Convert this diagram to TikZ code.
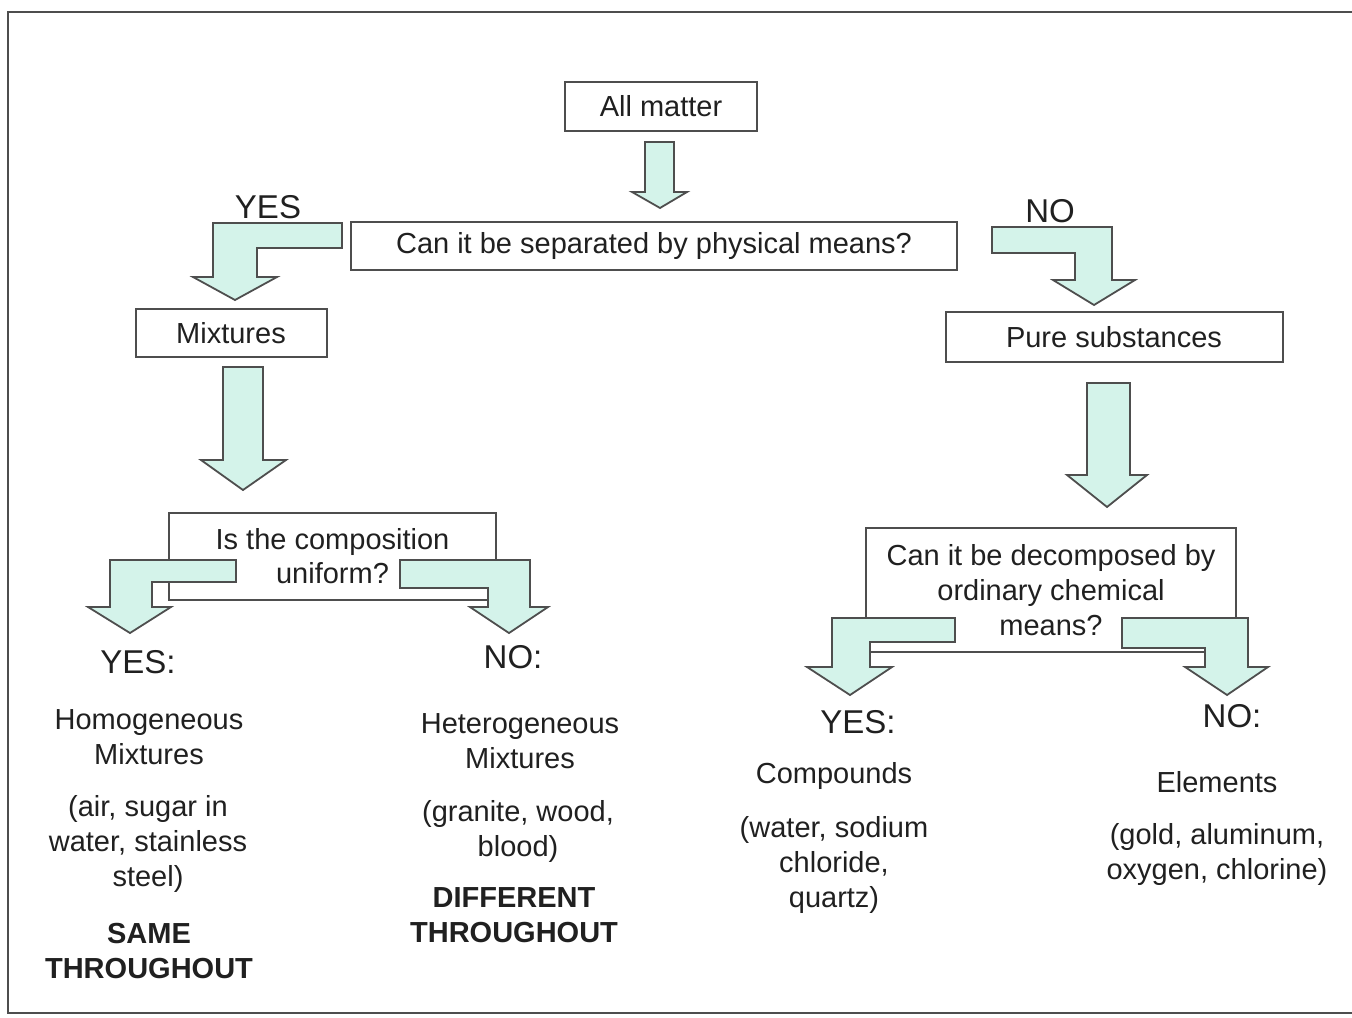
\documentclass[tikz,border=0pt]{standalone}
\usepackage{fontspec}
\setmainfont{Liberation Sans}
\usepackage{tikz}
\usetikzlibrary{positioning}
\definecolor{mint}{RGB}{212,243,234}
\definecolor{edge}{RGB}{78,78,78}
\definecolor{ink}{RGB}{32,32,32}
\tikzstyle{box} = [rectangle, draw=edge, line width=1pt, text=ink, align=center, inner sep=0pt]
\tikzstyle{lbl} = [text=ink, align=center, inner sep=0pt]
\tikzstyle{head} = [lbl, font=\fontsize{16.5}{19}\selectfont]
\tikzstyle{big} = [lbl, font=\fontsize{14.5}{17.5}\selectfont\bfseries]
\tikzset{blk/.style={draw=edge, fill=mint, line width=0.9pt, line join=miter}}

\begin{document}
\begin{tikzpicture}[x=0.5pt, y=-0.5pt, font=\fontsize{14.5}{17.5}\selectfont]
			\useasboundingbox (0,0) rectangle (1352,1017);
			\draw [edge, line width=1.4pt] (1352,12) -- (8,12) -- (8,1013) -- (1352,1013);
			
			\node (all) [box, minimum width=96pt, minimum height=24.5pt] at (661,106) {All matter};
			\node (sep) [box, minimum width=303pt, minimum height=24pt] at (654,246) {Can it be separated by physical means?};
			\node (mix) [box, minimum width=95.5pt, minimum height=24pt] at (231,333) {Mixtures};
			\node (pure) [box, minimum width=168.5pt, minimum height=25pt] at (1114,337) {Pure substances};
			\node (unif) [box, minimum width=163.5pt, minimum height=43.5pt, font=\fontsize{14.5}{17}\selectfont] at (332.5,556.5) {Is the composition\\uniform?};
			\node (chem) [box, minimum width=185pt, minimum height=62pt] at (1051,590) {Can it be decomposed by\\ordinary chemical\\means?};
			
			\node (yesA) [head] at (268,207) {YES};
			\node (noA) [head] at (1050,211) {NO};
			
			\node (yesB) [head] at (138,662) {YES:};
			\node (homo) [lbl] at (149,737) {Homogeneous\\Mixtures};
			\node (homoex) [lbl] at (148,844) {(air, sugar in\\water, stainless\\steel)};
			\node (same) [big] at (149,951) {SAME\\THROUGHOUT};
			
			\node (noB) [head] at (513,657) {NO:};
			\node (hete) [lbl] at (520,741) {Heterogeneous\\Mixtures};
			\node (heteex) [lbl] at (518,831) {(granite, wood,\\blood)};
			\node (diff) [big] at (514,915) {DIFFERENT\\THROUGHOUT};
			
			\node (yesC) [head] at (858,722) {YES:};
			\node (comp) [lbl] at (834,776) {Compounds};
			\node (compex) [lbl] at (834,865) {(water, sodium\\chloride,\\quartz)};
			
			\node (noC) [head] at (1232,716) {NO:};
			\node (elem) [lbl] at (1217,782) {Elements};
			\node (elemex) [lbl] at (1217,854) {(gold, aluminum,\\oxygen, chlorine)};
			
			% block arrows
			\draw [blk] (645,142) -- (674,142) -- (674,192) -- (687,192) -- (660,208) -- (632,192) -- (645,192) -- cycle;
			\draw [blk] (342,223) -- (342,248) -- (257,248) -- (257,277) -- (277,277) -- (235,300) -- (193,277) -- (213,277) -- (213,223) -- cycle;
			\draw [blk] (992,227) -- (1112,227) -- (1112,280) -- (1135,280) -- (1094,305) -- (1053,280) -- (1075,280) -- (1075,253) -- (992,253) -- cycle;
			\draw [blk] (223,367) -- (263,367) -- (263,460) -- (286,460) -- (243,490) -- (201,460) -- (223,460) -- cycle;
			\draw [blk] (1087,383) -- (1130,383) -- (1130,475) -- (1147,475) -- (1107,507) -- (1067,475) -- (1087,475) -- cycle;
			\draw [blk] (236,560) -- (236,582) -- (152,582) -- (152,607) -- (171,607) -- (130,633) -- (88,607) -- (110,607) -- (110,560) -- cycle;
			\draw [blk] (400,560) -- (530,560) -- (530,607) -- (548,607) -- (509,633) -- (470,607) -- (488,607) -- (488,588) -- (400,588) -- cycle;
			\draw [blk] (955,618) -- (955,642) -- (870,642) -- (870,667) -- (892,667) -- (850,695) -- (807,667) -- (832,667) -- (832,618) -- cycle;
			\draw [blk] (1122,618) -- (1248,618) -- (1248,667) -- (1268,667) -- (1227,695) -- (1185,667) -- (1205,667) -- (1205,648) -- (1122,648) -- cycle;
			
\end{tikzpicture}
\end{document}
